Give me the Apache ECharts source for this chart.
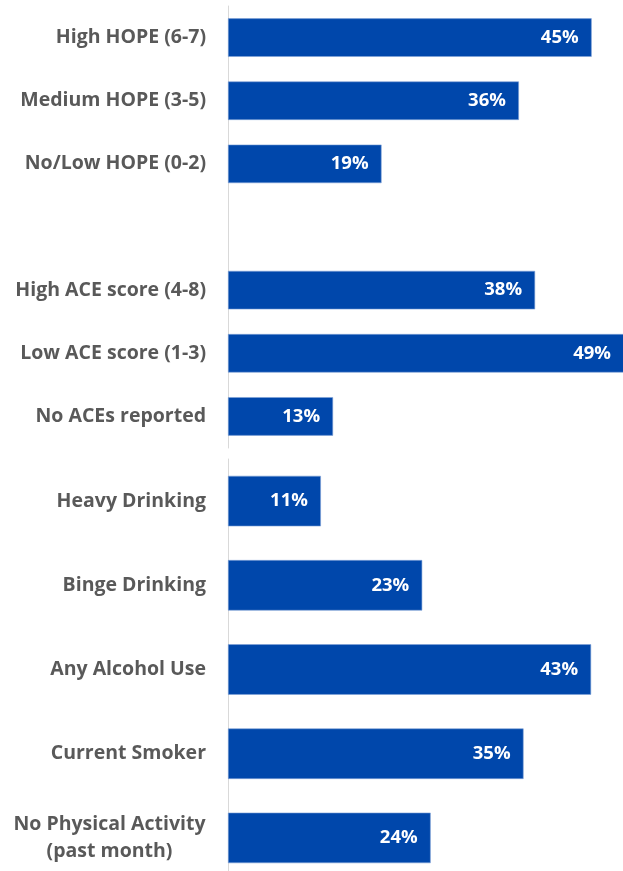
<!DOCTYPE html>
<html><head><meta charset="utf-8">
<script src="https://cdn.jsdelivr.net/npm/echarts@6/dist/echarts.min.js"></script>
<style>html,body{margin:0;padding:0;background:#fff}#c{width:623px;height:871px}</style>
</head><body><div id="c"></div>
<script>
const topCategories = ['High HOPE (6-7)', 'Medium HOPE (3-5)', 'No/Low HOPE (0-2)', '', 'High ACE score (4-8)', 'Low ACE score (1-3)', 'No ACEs reported'];
const topValues = [45, 36, 19, null, 38, 49, 13];
const bottomCategories = ['Heavy Drinking', 'Binge Drinking', 'Any Alcohol Use', 'Current Smoker', 'No Physical Activity\n(past month)'];
const bottomValues = [11, 23, 43, 35, 24];

const FONT = 'Open Sans';
const BLUE = '#0047AB';
const CAT_SIZE = 19.5;
const mctx = document.createElement('canvas').getContext('2d');
mctx.font = 'bold ' + CAT_SIZE + 'px "' + FONT + '"';
let richWidth = 0;
bottomCategories.concat(topCategories).forEach(c => {
  const lines = c.split('\n');
  if (lines.length > 1) lines.forEach(l => { richWidth = Math.max(richWidth, Math.ceil(mctx.measureText(l).width)); });
});
function catFormatter(v) {
  const lines = String(v).split('\n');
  if (lines.length < 2) return v;
  return lines.map(l => '{c|' + l + '}').join('\n');
}
function yAxis(idx, cats) {
  return {
    gridIndex: idx, type: 'category', data: cats, inverse: true,
    axisLine: { show: true, lineStyle: { color: '#d9d9d9', width: 1 } },
    axisTick: { show: false },
    axisLabel: {
      color: '#595959', fontFamily: FONT, fontWeight: 'bold', fontSize: CAT_SIZE, margin: 22, lineHeight: 27, align: 'right',
      formatter: catFormatter,
      rich: { c: { color: '#595959', fontFamily: FONT, fontWeight: 'bold', fontSize: CAT_SIZE, lineHeight: 27, width: richWidth, align: 'center' } }
    }
  };
}
function xAxis(idx, max) {
  return { gridIndex: idx, type: 'value', min: 0, max: max, show: false, splitLine: { show: false } };
}
function series(idx, vals, gap) {
  return {
    type: 'bar', xAxisIndex: idx, yAxisIndex: idx, data: vals, barCategoryGap: gap,
    itemStyle: { color: BLUE, borderColor: '#7fa3d6', borderWidth: 0.6 },
    label: { show: true, position: 'insideRight', distance: 13, color: '#fff', fontFamily: FONT, fontWeight: 'bold', fontSize: 18.5, formatter: p => p.value + '%' },
    silent: true, animation: false
  };
}
const chart = echarts.init(document.getElementById('c'));
chart.setOption({
  animation: false,
  grid: [
    { left: 228, top: 6, width: 396, height: 442, outerBoundsMode: 'none', containLabel: false },
    { left: 228, top: 459, width: 380, height: 421, outerBoundsMode: 'none', containLabel: false }
  ],
  xAxis: [xAxis(0, 49), xAxis(1, 45)],
  yAxis: [yAxis(0, topCategories), yAxis(1, bottomCategories)],
  series: [series(0, topValues, '39%'), series(1, bottomValues, '40%')]
});
</script></body></html>
